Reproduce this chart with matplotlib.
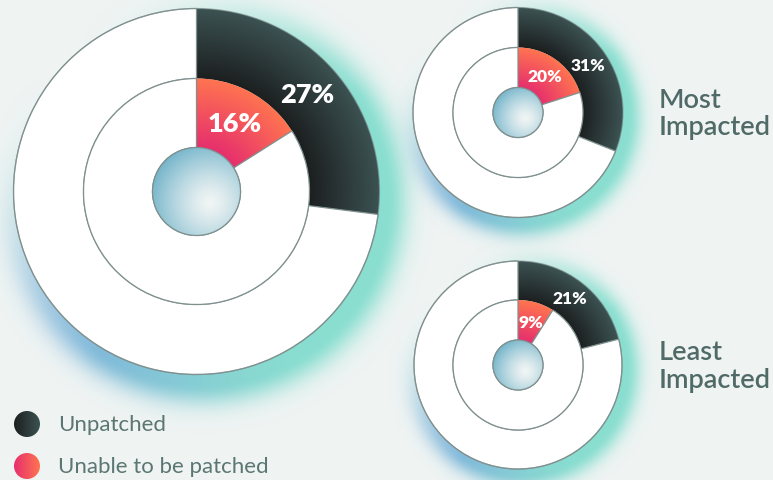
import numpy as np
import matplotlib.pyplot as plt
from matplotlib.patches import Wedge, Circle
from matplotlib.colors import to_rgb

W, H = 773, 481

# data
unpatched = [27, 31, 21]
unable = [16, 20, 9]
side_labels = ["", "Most\nImpacted", "Least\nImpacted"]
legend_labels = ["Unpatched", "Unable to be patched"]

# layout in pixels (y goes down)
centers = [(196.5, 192.5), (518, 113.5), (518, 366)]
r_outer = [183, 105, 104]
r_mid = [113, 65, 65]
r_hole = [44, 25, 25]
pct_size = [19.5, 12.5, 12.5]

bg = "#eff4f3"
edge = "#7f908e"
dark_in, dark_out = "#1c1f20", "#3c5252"
pink_in, pink_out = "#e62f6d", "#ff7450"
teal, blue = "#7edccc", "#74b0d8"
text_col = "#4f6a67"


def rgb(c):
    return np.array(to_rgb(c))


def radial_fill(ax, patch, cx, cy, r0, r1, c_in, c_out, z):
    n = int(2 * r1) + 2
    xs = np.linspace(cx - r1, cx + r1, n)
    ys = np.linspace(cy - r1, cy + r1, n)
    X, Y = np.meshgrid(xs, ys)
    t = np.clip((np.hypot(X - cx, Y - cy) - r0) / (r1 - r0), 0, 1)[..., None]
    img = (1 - t) * rgb(c_in) + t * rgb(c_out)
    ax.add_patch(patch)
    im = ax.imshow(img, extent=(cx - r1, cx + r1, cy + r1, cy - r1),
                   origin="upper", zorder=z, interpolation="bilinear")
    im.set_clip_path(patch)


def linear_fill(ax, patch, x0, x1, y0, y1, c_l, c_r, z):
    X = np.linspace(0, 1, 60)[None, :, None] * np.ones((30, 1, 1))
    img = (1 - X) * rgb(c_l) + X * rgb(c_r)
    ax.add_patch(patch)
    im = ax.imshow(img, extent=(x0, x1, y1, y0), origin="upper", zorder=z,
                   interpolation="bilinear")
    im.set_clip_path(patch)


fig = plt.figure(figsize=(W / 100, H / 100), dpi=100)
fig.patch.set_facecolor(bg)
ax = fig.add_axes([0, 0, 1, 1])
ax.set_facecolor(bg)
ax.axis("off")

# soft glow behind each donut (none towards the upper left)
yy, xx = np.mgrid[0:H, 0:W] + 0.5
for (cx, cy), R in zip(centers, r_outer):
    sx, sy = cx + 0.04 * R, cy + 0.05 * R
    d = np.hypot(xx - sx, yy - sy)
    s = 0.085 * R + 6
    phi = np.arctan2(yy - cy, xx - cx)
    side = np.clip((1 + np.cos(phi - np.radians(45))) / 2 * 1.6, 0, 1)
    a = np.where(d < R, 0.9, 0.9 * np.exp(-((d - R) / s) ** 2)) * side
    w = (np.clip(np.cos(phi - np.radians(140)), 0, 1) ** 2)[..., None]
    col = (1 - w) * rgb(teal) + w * rgb(blue)
    img = np.dstack([col, a])
    ax.imshow(img, extent=(0, W, H, 0), origin="upper", zorder=1,
              interpolation="bilinear")

for i, (cx, cy) in enumerate(centers):
    Ro, Rm, Rh = r_outer[i], r_mid[i], r_hole[i]
    a1 = 360 * unpatched[i] / 100
    a2 = 360 * unable[i] / 100
    # white parts
    ax.add_patch(Wedge((cx, cy), Ro, -90 + a1, 270, width=Ro - Rm,
                       facecolor="white", edgecolor=edge, lw=0.9, zorder=3))
    ax.add_patch(Wedge((cx, cy), Rm, -90 + a2, 270, width=Rm - Rh,
                       facecolor="white", edgecolor=edge, lw=0.9, zorder=3))
    # coloured parts
    radial_fill(ax, Wedge((cx, cy), Ro, -90, -90 + a1, width=Ro - Rm,
                          facecolor="none", edgecolor="none"),
                cx, cy, Rm, Ro, dark_in, dark_out, 2)
    radial_fill(ax, Wedge((cx, cy), Rm, -90, -90 + a2, width=Rm - Rh,
                          facecolor="none", edgecolor="none"),
                cx, cy, Rh, Rm, pink_in, pink_out, 2)
    # hole
    hole = Circle((cx, cy), Rh, facecolor="none", edgecolor="none")
    ax.add_patch(hole)
    n = int(2 * Rh) + 2
    X, Y = np.meshgrid(np.linspace(cx - Rh, cx + Rh, n), np.linspace(cy - Rh, cy + Rh, n))
    t = np.clip(np.hypot(X - (cx + 0.3 * Rh), Y - (cy + 0.25 * Rh)) / (1.45 * Rh), 0, 1)[..., None] ** 1.3
    img = (1 - t) * rgb("#f1f5f4") + t * rgb("#6fb2c9")
    im = ax.imshow(img, extent=(cx - Rh, cx + Rh, cy + Rh, cy - Rh), origin="upper",
                   zorder=3, interpolation="bilinear")
    im.set_clip_path(hole)
    ax.add_patch(Circle((cx, cy), Rh, facecolor="none", edgecolor=edge, lw=0.9, zorder=4))
    ax.add_patch(Circle((cx, cy), Ro, facecolor="none", edgecolor=edge, lw=0.9, zorder=4, alpha=0.6))

    # percentage labels
    for val, r0, r1 in [(unpatched[i], Rm, Ro), (unable[i], Rh, Rm)]:
        mid = np.radians(-90 + 360 * val / 200)
        rr = (r0 + r1) / 2
        ax.text(cx + rr * np.cos(mid), cy + rr * np.sin(mid), f"{val}%",
                ha="center", va="center", color="white", fontsize=pct_size[i],
                fontweight="heavy", family="Lato", zorder=6)

    if side_labels[i]:
        ax.text(659, cy + 0.5, side_labels[i], ha="left", va="center",
                fontsize=19.5, color=text_col, family="Lato", fontweight="semibold",
                linespacing=1.15, zorder=6)

# legend
leg_y = [425, 467]
leg_cols = [(dark_in, dark_out), (pink_in, pink_out)]
for y, lab, (cl, cr) in zip(leg_y, legend_labels, leg_cols):
    linear_fill(ax, Circle((27, y), 13, facecolor="none", edgecolor="none"),
                14, 40, y - 13, y + 13, cl, cr, 5)
    ax.text(58, y + 0.5, lab, ha="left", va="center", fontsize=16,
            color="#5b7673", family="Lato", zorder=6)

ax.set_xlim(0, W)
ax.set_ylim(H, 0)
ax.set_aspect("auto")
fig.savefig("out.png", dpi=100, facecolor=bg)
